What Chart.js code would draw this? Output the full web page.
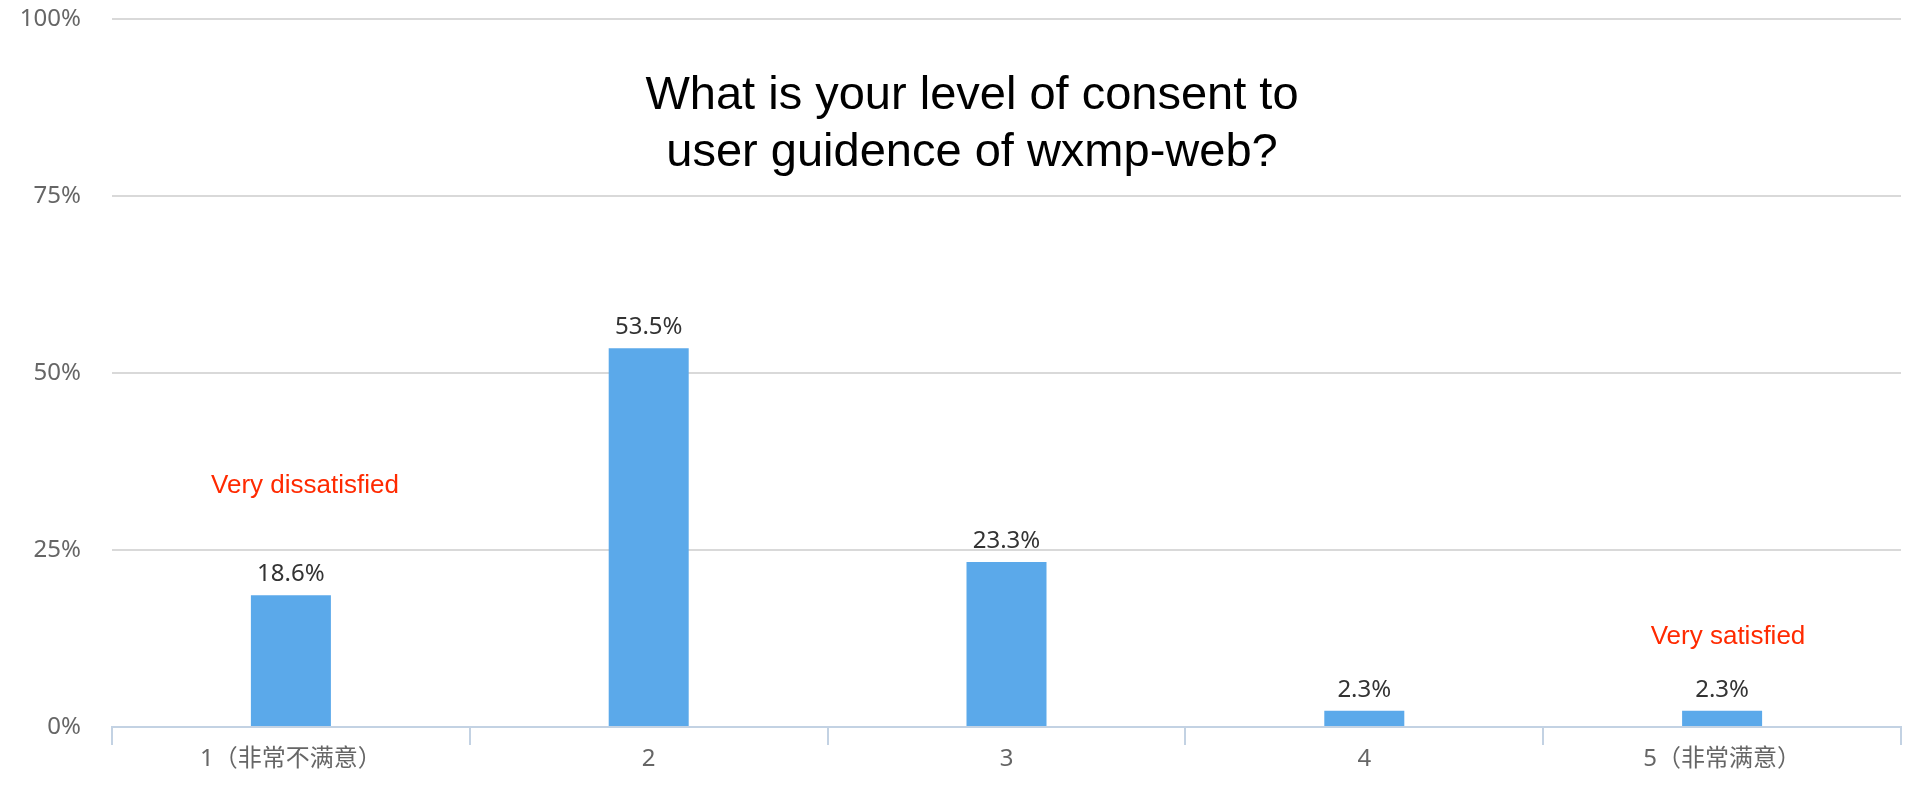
<!DOCTYPE html>
<html>
<head>
<meta charset="utf-8">
<script src="https://cdn.jsdelivr.net/npm/chart.js@4/dist/chart.umd.min.js"></script>
<style>
  html, body { margin: 0; padding: 0; background: #ffffff; }
  #wrap { width: 1920px; height: 800px; }
</style>
</head>
<body>
<div id="wrap"><canvas id="c" width="1920" height="800"></canvas></div>
<script>
// ---- data ----
const categories = ['1（非常不满意）', '2', '3', '4', '5（非常满意）'];
const shares = [18.6, 53.5, 23.3, 2.3, 2.3];
const valueLabels = ['18.6%', '53.5%', '23.3%', '2.3%', '2.3%'];
const yTicks = [0, 25, 50, 75, 100];
const yTickLabels = ['0%', '25%', '50%', '75%', '100%'];
const titleLines = ['What is your level of consent to', 'user guidence of wxmp-web?'];
const noteTexts = ['Very dissatisfied', 'Very satisfied'];

const BASE_FONT = '"Noto Sans", "Noto Sans CJK SC", sans-serif';

// value labels above bars
const valueLabelPlugin = {
  id: 'valueLabels',
  afterDatasetsDraw(chart) {
    const ctx = chart.ctx;
    const meta = chart.getDatasetMeta(0);
    ctx.save();
    ctx.font = '24px ' + BASE_FONT;
    ctx.fillStyle = '#333333';
    ctx.textAlign = 'center';
    ctx.textBaseline = 'alphabetic';
    meta.data.forEach((bar, i) => {
      ctx.fillText(valueLabels[i], bar.x, bar.y - 14);
    });
    ctx.restore();
  }
};

// two-line title drawn over the plot
const overlayTitlePlugin = {
  id: 'overlayTitle',
  afterDraw(chart, args, opts) {
    const ctx = chart.ctx;
    ctx.save();
    ctx.font = '47px "Liberation Sans", Arial, sans-serif';
    ctx.fillStyle = '#000000';
    ctx.textAlign = 'center';
    ctx.textBaseline = 'alphabetic';
    titleLines.forEach((line, i) => {
      ctx.fillText(line, opts.x, opts.y + i * opts.lineGap);
    });
    ctx.restore();
  }
};

// red notes
const notesPlugin = {
  id: 'notes',
  afterDraw(chart, args, opts) {
    const ctx = chart.ctx;
    ctx.save();
    ctx.font = '26px "Liberation Sans", Arial, sans-serif';
    ctx.fillStyle = '#ff2a00';
    ctx.textAlign = 'center';
    ctx.textBaseline = 'alphabetic';
    opts.items.forEach((it, i) => {
      ctx.fillText(noteTexts[i], it.x, it.y);
    });
    ctx.restore();
  }
};

new Chart(document.getElementById('c'), {
  type: 'bar',
  data: {
    labels: categories,
    datasets: [{
      data: shares,
      backgroundColor: '#5ba9ea',
      borderWidth: 0,
      categoryPercentage: 1,
      barPercentage: 0.2236
    }]
  },
  plugins: [valueLabelPlugin, overlayTitlePlugin, notesPlugin],
  options: {
    responsive: false,
    animation: false,
    layout: { padding: { top: 19, right: 19, bottom: 0, left: 0 } },
    plugins: {
      legend: { display: false },
      tooltip: { enabled: false },
      title: { display: false },
      overlayTitle: { x: 972, y: 109, lineGap: 57 },
      notes: { items: [{ x: 305, y: 493 }, { x: 1728, y: 644 }] }
    },
    scales: {
      x: {
        offset: true,
        grid: {
          offset: true,
          drawOnChartArea: false,
          drawTicks: true,
          tickLength: 18,
          color: '#c3d2e3',
          lineWidth: 2
        },
        border: { display: true, color: '#c3d2e3', width: 2 },
        ticks: {
          color: '#666666',
          font: { size: 24, family: BASE_FONT },
          padding: 0,
          maxRotation: 0,
          autoSkip: false
        },
        afterFit(scale) { scale.height = 73; }
      },
      y: {
        min: 0,
        max: 100,
        afterBuildTicks(scale) { scale.ticks = yTicks.map(v => ({ value: v })); },
        grid: {
          drawTicks: false,
          color: (c) => (c.tick && c.tick.value === 0) ? 'rgba(0,0,0,0)' : '#d9d9d9',
          lineWidth: 2
        },
        border: { display: false },
        ticks: {
          color: '#666666',
          font: { size: 24, family: BASE_FONT },
          padding: 31,
          callback: (v) => yTickLabels[yTicks.indexOf(v)]
        },
        afterFit(scale) {
          scale.width = 112;
          scale.paddingTop = 0;
          scale.paddingBottom = 0;
        }
      }
    }
  }
});
</script>
</body>
</html>
